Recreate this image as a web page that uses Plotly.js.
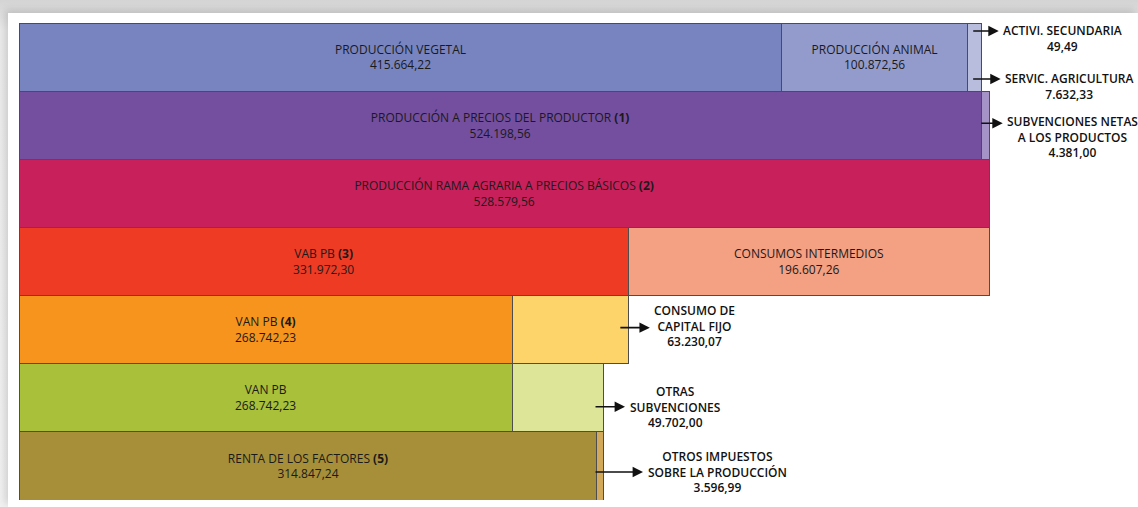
<!DOCTYPE html>
<html>
<head>
<meta charset="utf-8">
<script src="https://cdn.plot.ly/plotly-3.0.1.min.js"></script>
<style>
  html, body { margin: 0; padding: 0; }
  body { width: 1138px; height: 507px; background: linear-gradient(#d4d4d4, #ececec 30px, #f2f2f2); overflow: hidden; position: relative; }
  #card { position: absolute; left: 8px; top: 13px; width: 1130px; height: 494px; background: #fff; box-shadow: -3px -3px 8px rgba(0,0,0,0.15); }
  #myDiv { width: 1130px; height: 494px; }
</style>
</head>
<body>
<div id="card"><div id="myDiv"></div></div>
<script>
// one row per stage of the account, top to bottom
var rowIds = [0, 1, 2, 3, 4, 5, 6];

// first (left) block of every row
var baseLabels = [
  'PRODUCCIÓN VEGETAL',
  'PRODUCCIÓN A PRECIOS DEL PRODUCTOR <b>(1)</b>',
  'PRODUCCIÓN RAMA AGRARIA A PRECIOS BÁSICOS <b>(2)</b>',
  'VAB PB <b>(3)</b>',
  'VAN PB <b>(4)</b>',
  'VAN PB',
  'RENTA DE LOS FACTORES <b>(5)</b>'
];
var baseValues = [415664.22, 524198.56, 528579.56, 331972.30, 268742.23, 268742.23, 314847.24];
var baseColors = ['#7884c0', '#744fa0', '#c8205a', '#ee3b24', '#f7941e', '#a8c03a', '#a68f38'];

// second block (row 2 has none)
var secondRows = [0, 1, 3, 4, 5, 6];
var secondLabels = [
  'PRODUCCIÓN ANIMAL',
  'SUBVENCIONES NETAS<br>A LOS PRODUCTOS',
  'CONSUMOS INTERMEDIOS',
  'CONSUMO DE<br>CAPITAL FIJO',
  'OTRAS<br>SUBVENCIONES',
  'OTROS IMPUESTOS<br>SOBRE LA PRODUCCIÓN'
];
var secondValues = [100872.56, 4381.00, 196607.26, 63230.07, 49702.00, 3596.99];
var secondColors = ['#939bcc', '#a592c6', '#f4a083', '#fdd46a', '#dce598', '#d2a95a'];

// small blocks at the end of the first row
var thirdRows = [0];
var thirdLabels = ['SERVIC. AGRICULTURA'];
var thirdValues = [7632.33];
var thirdColors = ['#b8bcdd'];

var fourthRows = [0];
var fourthLabels = ['ACTIVI. SECUNDARIA'];
var fourthValues = [49.49];
var fourthColors = ['#bcd6ec'];

function fmt(v) {
  var parts = v.toFixed(2).split('.');
  return parts[0].replace(/\B(?=(\d{3})+(?!\d))/g, '.') + ',' + parts[1];
}

var segments = [
  {rows: rowIds, labels: baseLabels, values: baseValues, colors: baseColors},
  {rows: secondRows, labels: secondLabels, values: secondValues, colors: secondColors},
  {rows: thirdRows, labels: thirdLabels, values: thirdValues, colors: thirdColors},
  {rows: fourthRows, labels: fourthLabels, values: fourthValues, colors: fourthColors}
];

// labels drawn outside with an arrow: [segment, index, arrow dy, text dy, arrow length]
var callouts = [
  [3, 0, 26, 19, 26],
  [2, 0, -22, -29, 28],
  [1, 1, 2, -12, 22],
  [1, 3, 2, 4, 30],
  [1, 4, -9, -9, 30],
  [1, 5, -6, -6, 48]
];

function isCallout(s, i) {
  return callouts.some(function (c) { return c[0] === s && c[1] === i; });
}

var textFont = {family: 'Open Sans, sans-serif', size: 12, color: '#1a1a1a', weight: 500};

var ends = {};
var data = segments.map(function (seg, s) {
  var texts = seg.labels.map(function (l, i) {
    return isCallout(s, i) ? '' : l + '<br>' + fmt(seg.values[i]);
  });
  seg.rows.forEach(function (r, i) {
    ends[s + '_' + i] = (ends['row' + r] || 0) + seg.values[i];
    ends['row' + r] = ends[s + '_' + i];
  });
  return {
    type: 'bar',
    orientation: 'h',
    y: seg.rows,
    x: seg.values,
    text: texts,
    textposition: 'inside',
    insidetextanchor: 'middle',
    textangle: 0,
    textfont: textFont,
    marker: {color: seg.colors, line: {color: '#4d4d4d', width: 1}},
    hoverinfo: 'none',
    cliponaxis: false,
    showlegend: false
  };
});

var annotations = [];
callouts.forEach(function (c) {
  var seg = segments[c[0]];
  var i = c[1];
  var xEnd = ends[c[0] + '_' + i];
  var row = seg.rows[i];
  annotations.push({
    x: xEnd, y: row, xref: 'x', yref: 'y',
    text: '', showarrow: true, ax: c[4], ay: 0,
    xshift: -8, yshift: c[2], borderpad: 0,
    arrowside: 'start', startarrowhead: 2, startarrowsize: 1.3,
    arrowwidth: 1.6, arrowcolor: '#111'
  });
  annotations.push({
    x: xEnd, y: row, xref: 'x', yref: 'y',
    text: seg.labels[i] + '<br>' + fmt(seg.values[i]),
    showarrow: false, xanchor: 'left', align: 'center',
    xshift: -8 + c[4] + 2, yshift: c[3],
    font: {family: 'Open Sans, sans-serif', size: 12, color: '#111', weight: 600}
  });
});

var layout = {
  barmode: 'stack',
  bargap: 0,
  width: 1130,
  height: 494,
  margin: {l: 11, r: 148, t: 10, b: 7},
  paper_bgcolor: 'rgba(0,0,0,0)',
  plot_bgcolor: 'rgba(0,0,0,0)',
  xaxis: {range: [0, 529000], visible: false, fixedrange: true},
  yaxis: {range: [6.5, -0.5], visible: false, fixedrange: true},
  annotations: annotations
};

var plotDiv = document.getElementById('myDiv');

Plotly.newPlot(plotDiv, data, layout, {displayModeBar: false, staticPlot: true});
</script>
</body>
</html>
